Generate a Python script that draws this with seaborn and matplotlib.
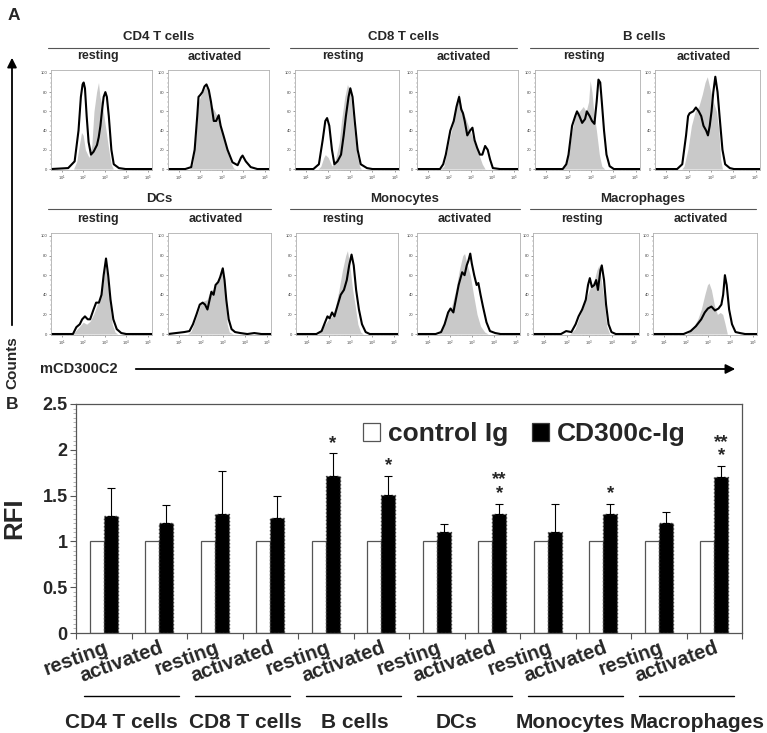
import numpy as np
import pandas as pd
import seaborn as sns
import matplotlib
matplotlib.use("Agg")
import matplotlib.pyplot as plt
from matplotlib.patches import FancyArrowPatch, Patch
from matplotlib.lines import Line2D
from matplotlib.transforms import blended_transform_factory, ScaledTranslation

# ---------------- data ----------------
cells = ["CD4 T cells", "CD8 T cells", "B cells", "DCs", "Monocytes", "Macrophages"]
states = ["resting", "activated"]
treatments = ["control Ig", "CD300c-Ig"]

control_rfi = [1.0, 1.0, 1.0, 1.0, 1.0, 1.0, 1.0, 1.0, 1.0, 1.0, 1.0, 1.0]
cd300c_rfi = [1.28, 1.20, 1.30, 1.26, 1.71, 1.51, 1.10, 1.30, 1.10, 1.30, 1.20, 1.70]
cd300c_err = [0.30, 0.20, 0.47, 0.24, 0.25, 0.20, 0.09, 0.11, 0.31, 0.11, 0.12, 0.12]
signif = ["", "", "", "", "*", "*", "", "**\n*", "", "*", "", "**\n*"]

# histogram curves: (log10 fluorescence, % of max)
cd4_rest_iso = [(0.5,0),(1.55,0),(1.7,8),(1.82,25),(1.92,38),(2.0,35),(2.1,20),(2.27,12),(2.4,25),(2.5,60),(2.62,80),(2.71,90),(2.78,75),(2.9,65),(3.03,45),(3.19,20),(3.3,5),(3.4,0),(5.2,0)]
cd4_rest_ab = [(0.5,0),(1.3,1),(1.6,8),(1.78,40),(1.89,75),(1.97,88),(2.02,90),(2.08,84),(2.16,55),(2.25,28),(2.36,15),(2.48,18),(2.64,25),(2.72,33),(2.8,45),(2.88,62),(2.95,75),(3.03,80),(3.1,75),(3.19,55),(3.31,20),(3.42,5),(3.66,1),(3.97,0),(5.2,0)]
cd4_act_iso = [(0.5,0),(1.5,0),(1.65,5),(1.8,35),(1.9,68),(2.0,75),(2.2,84),(2.3,85),(2.45,75),(2.55,65),(2.68,60),(2.85,52),(3.0,40),(3.2,22),(3.4,8),(3.55,1),(3.65,0),(5.2,0)]
cd4_act_ab = [(0.5,0),(1.3,0),(1.58,2),(1.74,20),(1.86,55),(1.92,75),(2.0,77),(2.1,80),(2.2,86),(2.29,88),(2.4,82),(2.5,70),(2.63,50),(2.74,50),(2.86,56),(2.95,45),(3.08,35),(3.27,20),(3.5,7),(3.74,4),(3.9,12),(3.97,14),(4.12,8),(4.35,2),(4.66,0),(5.2,0)]
cd8_rest_iso = [(0.5,0),(1.55,0),(1.67,3),(1.8,12),(1.87,15),(2.0,12),(2.17,3),(2.33,10),(2.5,28),(2.6,50),(2.75,75),(2.87,88),(3.0,80),(3.17,40),(3.3,15),(3.42,3),(3.5,0),(5.2,0)]
cd8_rest_ab = [(0.5,0),(1.33,0),(1.58,5),(1.75,30),(1.87,50),(1.95,53),(2.05,45),(2.17,20),(2.28,5),(2.42,8),(2.58,15),(2.7,35),(2.8,55),(2.92,75),(3.0,84),(3.1,75),(3.2,50),(3.33,20),(3.47,5),(3.75,1),(4.0,0),(5.2,0)]
cd8_act_iso = [(0.5,0),(1.6,0),(1.75,3),(2.0,30),(2.16,45),(2.33,70),(2.44,80),(2.56,65),(2.72,55),(2.89,45),(3.05,35),(3.21,25),(3.38,15),(3.54,5),(3.67,0),(5.2,0)]
cd8_act_ab = [(0.5,0),(1.57,0),(1.72,5),(1.84,15),(2.05,40),(2.21,50),(2.34,65),(2.46,75),(2.56,62),(2.64,58),(2.72,50),(2.84,35),(2.97,40),(3.08,43),(3.18,30),(3.3,22),(3.43,15),(3.54,15),(3.67,24),(3.79,20),(3.9,10),(4.03,1),(4.36,0),(5.2,0)]
b_rest_iso = [(0.5,0),(1.7,0),(1.82,2),(2.0,15),(2.16,40),(2.3,55),(2.49,60),(2.66,65),(2.79,60),(2.9,70),(2.97,92),(3.05,80),(3.13,60),(3.25,40),(3.38,15),(3.49,3),(3.62,0),(5.2,0)]
b_rest_ab = [(0.5,0),(1.74,0),(1.9,5),(2.0,15),(2.16,45),(2.3,55),(2.38,60),(2.49,55),(2.61,48),(2.74,52),(2.82,60),(2.95,55),(3.05,50),(3.16,47),(3.26,70),(3.34,93),(3.42,90),(3.49,70),(3.59,40),(3.7,15),(3.84,3),(4.03,0),(5.2,0)]
b_act_iso = [(0.5,0),(1.7,0),(1.8,3),(1.97,20),(2.13,45),(2.3,60),(2.46,65),(2.62,78),(2.74,90),(2.84,96),(2.95,85),(3.11,70),(3.25,60),(3.36,40),(3.44,10),(3.52,0),(5.2,0)]
b_act_ab = [(0.5,0),(1.49,0),(1.72,5),(1.89,35),(1.98,55),(2.05,58),(2.21,60),(2.33,64),(2.46,60),(2.57,55),(2.67,45),(2.79,40),(2.87,35),(2.95,45),(3.03,60),(3.11,80),(3.2,96),(3.3,80),(3.39,55),(3.52,20),(3.64,5),(3.85,1),(4.03,0),(5.2,0)]
dc_rest_iso = [(0.5,0),(1.5,0),(1.6,2),(1.84,8),(2.0,12),(2.16,10),(2.32,13),(2.48,20),(2.65,30),(2.81,40),(2.94,55),(3.03,70),(3.13,55),(3.23,35),(3.35,10),(3.48,2),(3.6,0),(5.2,0)]
dc_rest_ab = [(0.5,0),(1.52,0),(1.68,7),(1.84,10),(1.95,15),(2.08,18),(2.21,15),(2.32,15),(2.48,25),(2.6,32),(2.73,32),(2.85,40),(2.95,60),(3.06,77),(3.16,60),(3.27,35),(3.4,15),(3.56,5),(3.77,1),(4.0,0),(5.2,0)]
dc_act_iso = [(0.5,0),(1.4,0),(1.56,3),(1.8,18),(2.04,33),(2.28,35),(2.44,45),(2.6,45),(2.76,55),(2.92,62),(3.03,63),(3.12,40),(3.2,10),(3.3,2),(3.48,0),(5.2,0)]
dc_act_ab = [(0.5,0),(1.24,2),(1.48,3),(1.64,10),(1.8,20),(1.95,30),(2.08,32),(2.19,30),(2.3,25),(2.4,35),(2.48,43),(2.58,40),(2.67,50),(2.79,53),(2.88,58),(3.0,67),(3.08,55),(3.16,35),(3.27,15),(3.4,5),(3.56,2),(3.8,1),(4.12,0),(4.44,1),(4.76,0),(5.2,0)]
mono_rest_iso = [(0.5,0),(1.5,0),(1.6,2),(1.84,10),(2.0,15),(2.16,18),(2.32,28),(2.48,45),(2.64,65),(2.79,80),(2.87,85),(2.98,70),(3.11,45),(3.22,30),(3.35,10),(3.48,2),(3.6,0),(5.2,0)]
mono_rest_ab = [(0.5,0),(1.44,0),(1.68,3),(1.84,12),(1.95,18),(2.05,16),(2.16,22),(2.27,18),(2.4,28),(2.56,40),(2.71,45),(2.84,55),(2.95,70),(3.06,81),(3.16,70),(3.27,45),(3.4,25),(3.54,10),(3.71,2),(3.9,0),(5.2,0)]
mono_act_iso = [(0.5,0),(1.45,0),(1.6,2),(1.84,18),(2.08,28),(2.27,45),(2.43,65),(2.59,80),(2.67,82),(2.8,70),(2.93,60),(3.08,40),(3.24,20),(3.4,8),(3.59,2),(3.75,0),(5.2,0)]
mono_act_ab = [(0.5,0),(1.35,0),(1.6,2),(1.76,10),(1.92,22),(2.03,26),(2.16,22),(2.27,35),(2.4,50),(2.56,63),(2.67,60),(2.77,70),(2.85,75),(2.93,82),(3.0,72),(3.11,60),(3.22,50),(3.3,52),(3.4,40),(3.51,28),(3.67,12),(3.83,3),(4.07,1),(4.31,0),(5.2,0)]
mac_rest_iso = [(0.5,0),(2.13,0),(2.36,5),(2.6,20),(2.76,30),(2.92,40),(3.08,50),(3.22,55),(3.33,65),(3.42,70),(3.53,55),(3.65,35),(3.77,8),(3.9,0),(5.2,0)]
mac_rest_ab = [(0.5,0),(1.74,0),(1.97,3),(2.2,2),(2.39,10),(2.52,18),(2.68,25),(2.84,35),(2.94,50),(3.02,57),(3.11,48),(3.22,50),(3.3,55),(3.38,45),(3.49,65),(3.55,70),(3.65,55),(3.74,30),(3.85,10),(3.98,2),(4.17,0),(5.2,0)]
mac_act_iso = [(0.5,0),(2.03,0),(2.27,5),(2.52,15),(2.68,25),(2.84,40),(2.96,50),(3.03,52),(3.14,45),(3.27,30),(3.41,20),(3.54,22),(3.65,20),(3.76,10),(3.86,0),(5.2,0)]
mac_act_ab = [(0.5,0),(1.88,0),(2.2,3),(2.44,8),(2.68,15),(2.84,22),(2.98,26),(3.14,28),(3.3,24),(3.46,26),(3.59,30),(3.67,40),(3.75,60),(3.83,50),(3.94,25),(4.07,10),(4.23,2),(4.43,1),(4.66,0),(5.2,0)]

hist_panels = [
    (cd4_rest_iso, cd4_rest_ab), (cd4_act_iso, cd4_act_ab),
    (cd8_rest_iso, cd8_rest_ab), (cd8_act_iso, cd8_act_ab),
    (b_rest_iso, b_rest_ab), (b_act_iso, b_act_ab),
    (dc_rest_iso, dc_rest_ab), (dc_act_iso, dc_act_ab),
    (mono_rest_iso, mono_rest_ab), (mono_act_iso, mono_act_ab),
    (mac_rest_iso, mac_rest_ab), (mac_act_iso, mac_act_ab),
]

# ---------------- style ----------------
sns.set_style("ticks")
plt.rcParams["font.family"] = ["Liberation Sans", "DejaVu Sans"]
plt.rcParams["mathtext.fontset"] = "custom"
plt.rcParams["mathtext.rm"] = "Liberation Sans"

W, H = 767, 733
fig = plt.figure(figsize=(W / 100, H / 100), dpi=100)


def px_axes(l, t, r, b):
    return fig.add_axes([l / W, 1 - b / H, (r - l) / W, (b - t) / H])


def ftext(x, y, s, **kw):
    fig.text(x / W, 1 - y / H, s, **kw)


def fline(x0, y0, x1, y1, **kw):
    fig.add_artist(Line2D([x0 / W, x1 / W], [1 - y0 / H, 1 - y1 / H],
                          transform=fig.transFigure, **kw))


# ---------------- panel A ----------------
rows_y = [(70, 170), (233, 335)]
cols_x = [
    [(51, 152), (168, 269), (295, 399), (417, 518), (535, 640), (655, 760)],
    [(51, 152), (168, 271), (296, 398), (417, 520), (533, 639), (653, 757)],
]
group_lines = [[(48, 269), (290, 517), (530, 758)], [(48, 271), (290, 520), (530, 756)]]
title_y = [(37, 47.5, 56.5), (199, 209, 219)]

minor_x = [np.log10(k) + d for d in range(0, 6) for k in range(2, 10)]
minor_x = [m for m in minor_x if 0.5 < m < 5.2]

for r in range(2):
    t, b = rows_y[r]
    for c in range(6):
        l, rr = cols_x[r][c]
        ax = px_axes(l, t, rr, b)
        iso, ab = hist_panels[r * 6 + c]
        gx = [p[0] for p in iso]
        gy = [p[1] for p in iso]
        bx = [p[0] for p in ab]
        by = [p[1] for p in ab]
        ax.fill_between(gx, gy, 0, color="#c9c9c9", lw=0)
        sns.lineplot(x=bx, y=by, ax=ax, color="black", lw=1.5, sort=False,
                     estimator=None)
        ax.set_xlim(0.5, 5.2)
        ax.set_ylim(-1, 103)
        ax.set_xticks([1, 2, 3, 4, 5])
        ax.set_xticklabels([r"$10^{%d}$" % i for i in range(1, 6)], fontsize=3)
        ax.set_xticks(minor_x, minor=True)
        ax.set_yticks([0, 20, 40, 60, 80, 100])
        ax.set_yticklabels(["0", "20", "40", "60", "80", "100"], fontsize=3)
        ax.set_yticks(np.arange(0, 101, 5), minor=True)
        ax.tick_params(length=1.5, width=0.4, pad=1, colors="#555555",
                       labelcolor="#444444")
        ax.tick_params(which="minor", length=0.8, width=0.3, colors="#777777")
        ax.set_xlabel("")
        ax.set_ylabel("")
        for sp in ax.spines.values():
            sp.set_color("#b0b0b0")
            sp.set_linewidth(0.6)
        ftext((l + rr) / 2 - 4, title_y[r][2], states[c % 2], ha="center",
              va="center", fontsize=9, fontweight="bold")
    for g in range(3):
        x0, x1 = group_lines[r][g]
        fline(x0, title_y[r][1], x1, title_y[r][1], color="#555555", lw=0.8)
        ftext((x0 + x1) / 2, title_y[r][0], cells[r * 3 + g], ha="center",
              va="center", fontsize=9.5, fontweight="bold")

ftext(14, 16, "A", ha="center", va="center", fontsize=12.5, fontweight="bold")
ftext(12, 404, "B", ha="center", va="center", fontsize=12.5, fontweight="bold")

fig.add_artist(FancyArrowPatch((12 / W, 1 - 328 / H), (12 / W, 1 - 55 / H),
                               transform=fig.transFigure, arrowstyle="-|>",
                               mutation_scale=14, color="black", lw=1.3))
fig.add_artist(FancyArrowPatch((133 / W, 1 - 369 / H), (738 / W, 1 - 369 / H),
                               transform=fig.transFigure, arrowstyle="-|>",
                               mutation_scale=14, color="black", lw=1.3))
ftext(12, 363, "Counts", rotation=90, ha="center", va="center", fontsize=11,
      fontweight="bold")
ftext(40, 369, "mCD300C2", ha="left", va="center", fontsize=10.5,
      fontweight="bold")

# ---------------- panel B ----------------
keys = [f"{c}|{s}" for c in cells for s in states]
df = pd.DataFrame({
    "key": keys * 2,
    "RFI": control_rfi + cd300c_rfi,
    "treatment": [treatments[0]] * 12 + [treatments[1]] * 12,
})

axb = px_axes(76, 404, 742, 633)
sns.barplot(data=df, x="key", y="RFI", hue="treatment", order=keys,
            hue_order=treatments,
            palette={treatments[0]: "white", treatments[1]: "black"},
            width=0.5, errorbar=None, ax=axb, legend=False)
for p in axb.containers[0]:
    p.set_edgecolor("#555555")
    p.set_linewidth(0.9)
for p in axb.containers[1]:
    p.set_edgecolor("#3a3a3a")
    p.set_linewidth(1.0)
    p.set_linestyle(":")

bx_pos = [p.get_x() + p.get_width() / 2 for p in axb.containers[1]]
axb.errorbar(bx_pos, cd300c_rfi, yerr=[[0] * 12, cd300c_err], fmt="none",
             ecolor="black", elinewidth=0.8, capsize=3, capthick=0.8)
for xpos, m, e, s in zip(bx_pos, cd300c_rfi, cd300c_err, signif):
    if s:
        axb.text(xpos, m + e + 0.02, s, ha="center", va="bottom", fontsize=13.5,
                 fontweight="bold", linespacing=0.75)

axb.set_xlim(-0.5, 11.5)
axb.set_ylim(0, 2.5)
axb.set_yticks([0, 0.5, 1, 1.5, 2, 2.5])
axb.set_yticklabels(["0", "0.5", "1", "1.5", "2", "2.5"], fontsize=13,
                    fontweight="bold")
axb.set_yticks(np.arange(0, 2.5001, 0.05), minor=True)
axb.set_xticks(range(12))
axb.set_xticklabels([s for c in cells for s in states], fontsize=14.5,
                    fontweight="bold", rotation=20, ha="right",
                    rotation_mode="anchor")
offset = ScaledTranslation(9 / 100, -1 / 100, fig.dpi_scale_trans)
for lab in axb.get_xticklabels():
    lab.set_transform(lab.get_transform() + offset)
axb.set_xticks(np.arange(-0.5, 12, 1), minor=True)
axb.tick_params(axis="x", which="major", length=0, pad=4)
axb.tick_params(axis="x", which="minor", length=4, width=0.8, color="#555555")
axb.tick_params(axis="y", which="major", length=4, width=0.8, color="#555555",
                pad=2)
axb.tick_params(axis="y", which="minor", length=2, width=0.5, color="#999999")
axb.set_xlabel("")
axb.set_ylabel("RFI", fontsize=18.5, fontweight="bold", labelpad=12)
for sp in axb.spines.values():
    sp.set_color("#555555")
    sp.set_linewidth(0.9)

handles = [Patch(facecolor="white", edgecolor="#555555", lw=0.9),
           Patch(facecolor="black", edgecolor="#3a3a3a", lw=0.9)]
fig.legend(handles, treatments, ncol=2, frameon=False, loc="center left",
           bbox_to_anchor=(363 / W, 1 - 434 / H), borderpad=0, borderaxespad=0,
           prop={"weight": "bold", "size": 19}, handlelength=0.65,
           handleheight=0.65, handletextpad=0.3, columnspacing=0.9)

tr = blended_transform_factory(axb.transData, fig.transFigure)
label_shift = [-0.19, 0.06, 0.03, -0.15, -0.1, 0.2]
for g in range(6):
    cx = 2 * g + 0.5
    axb.plot([cx - 0.85, cx + 0.85], [1 - 696 / H, 1 - 696 / H], transform=tr,
             color="black", lw=1.0, clip_on=False)
    axb.text(cx + label_shift[g], 1 - 722 / H, cells[g], transform=tr,
             ha="center", va="center", fontsize=15, fontweight="bold")

fig.savefig("out.png", dpi=100)
